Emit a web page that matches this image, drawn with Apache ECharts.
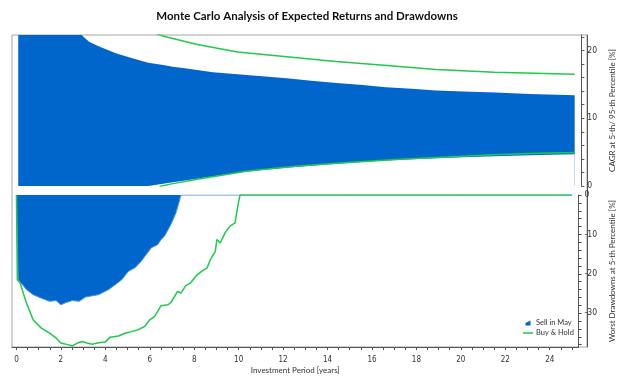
<!DOCTYPE html>
<html><head><meta charset="utf-8">
<script src="https://cdn.jsdelivr.net/npm/echarts@6/dist/echarts.min.js"></script>
<style>html,body{margin:0;padding:0;background:#fff}#c{width:624px;height:386px}</style>
</head><body><div id="c"></div>
<script>
// ---- Top panel: CAGR at 5th / 95th percentile [%] ----
const bandYears = [0.08, 0.5, 1, 1.5, 2, 2.5, 2.95, 3.25, 3.7, 4.45, 5.15, 5.9, 6.5, 7.0, 7.7, 8.8, 9.9, 11, 12.1, 13.2, 14.35, 15.5, 16.55, 17.7, 18.8, 20, 21.45, 23, 25];
const sellUpper = [60, 45, 36, 30, 26.5, 24, 22.2, 21.3, 20.6, 19.6, 18.9, 18.2, 17.9, 17.6, 17.3, 16.8, 16.5, 16.2, 15.9, 15.55, 15.2, 14.9, 14.6, 14.35, 14.1, 13.95, 13.8, 13.6, 13.4];
const sellLower = [0, 0, 0, 0, 0, 0, 0, 0, 0, 0, 0, 0, 0.3, 0.55, 0.9, 1.45, 1.95, 2.35, 2.7, 3.0, 3.3, 3.55, 3.75, 3.95, 4.1, 4.25, 4.4, 4.55, 4.7];
const bhUpperYears = [6.0, 6.5, 8.1, 9.9, 12.1, 14.3, 16.6, 18.8, 21.4, 25];
const bhUpper = [22.9, 22.2, 20.9, 19.8, 19.1, 18.4, 17.8, 17.2, 16.8, 16.5];
const bhLowerYears = [6.4, 6.5, 7.0, 8.1, 9.2, 10.35, 12.6, 15, 17, 19, 21.4, 23, 25];
const bhLower = [-0.1, 0, 0.35, 1.0, 1.6, 2.2, 2.95, 3.5, 3.9, 4.25, 4.6, 4.8, 4.95];

// ---- Bottom panel: worst drawdowns at 5th percentile [%] ----
const sellDDYears = [0, 0.08, 0.45, 0.75, 1.12, 1.49, 1.78, 2.0, 2.23, 2.52, 2.82, 3.11, 3.7, 4.15, 4.44, 4.74, 5.03, 5.33, 5.62, 5.84, 6.07, 6.36, 6.51, 6.66, 6.95, 7.18, 7.33, 7.4, 10, 15, 20, 25];
const sellDD = [0, -21.5, -24.0, -25.3, -26.2, -27.0, -26.8, -27.9, -27.3, -26.8, -27.0, -25.9, -25.3, -24.0, -22.8, -21.5, -19.4, -18.5, -16.8, -15.1, -13.4, -12.6, -11.3, -10.5, -7.5, -4.5, -1.6, 0, 0, 0, 0, 0];
const bhDDYears = [0, 0.04, 0.16, 0.45, 0.75, 1.12, 1.49, 1.78, 2.0, 2.3, 2.52, 2.74, 2.96, 3.18, 3.41, 3.7, 4.0, 4.22, 4.59, 4.89, 5.18, 5.48, 5.77, 6.0, 6.22, 6.51, 6.81, 6.95, 7.25, 7.4, 7.62, 7.84, 8.14, 8.43, 8.58, 8.73, 8.95, 9.02, 9.17, 9.39, 9.61, 9.84, 9.91, 9.99, 10.06, 15, 20, 25];
const bhDD = [0, -21.5, -22.3, -27.4, -31.7, -33.8, -35.1, -36.3, -37.6, -38.0, -38.3, -37.6, -37.2, -37.6, -37.9, -37.5, -37.3, -36.1, -35.8, -35.1, -34.7, -34.2, -33.4, -31.7, -30.8, -28.1, -27.9, -27.3, -24.5, -24.9, -23.0, -22.3, -20.2, -19.0, -18.5, -16.4, -14.3, -11.3, -12.2, -9.6, -7.9, -7.1, -4.5, -2.0, 0, 0, 0, 0];

// ---- Tick labels ----
const xTickLabels = [0, 2, 4, 6, 8, 10, 12, 14, 16, 18, 20, 22, 24];
const cagrTickLabels = [0, 10, 20];
const ddTickLabels = [0, -10, -20, -30];

const xMinor = []; for (let v = 0; v <= 25; v += 0.5) xMinor.push(v);
const cagrMinor = []; for (let v = 0; v <= 22; v += 2) cagrMinor.push(v);
const ddMinor = []; for (let v = 0; v >= -38; v -= 2) ddMinor.push(v);

const zip = (xs, ys) => xs.map((x, i) => [x, ys[i]]);

const BLUE = '#0066cc', BLUE_EDGE = '#4a90e2', GREEN = '#22c84c';
const FONT = 'Lato';
const labelStyle = { fontSize: 8.5, color: '#333', fontFamily: 'DejaVu Sans Condensed, DejaVu Sans' };
const nameStyle = { fontSize: 8, color: '#333', fontFamily: FONT };
const noZero = { onZero: false, show: true, lineStyle: { color: '#555', width: 1 } };

const chart = echarts.init(document.getElementById('c'), null, { renderer: 'canvas' });
chart.setOption({
  animation: false,
  backgroundColor: '#fff',
  title: {
    text: 'Monte Carlo Analysis of Expected Returns and Drawdowns',
    left: 302, top: 5, textAlign: 'center',
    textStyle: { fontSize: 11.5, fontWeight: 'bold', color: '#111', fontFamily: FONT }
  },
  legend: {
    orient: 'vertical', left: 518, top: 314, itemWidth: 10, itemHeight: 5, itemGap: 2,
    textStyle: { fontSize: 7.5, color: '#333', fontFamily: FONT, padding: [0, 0, 0, -2] },
    data: [
      { name: 'Sell in May', icon: 'path://M0,5 L10,0 L10,10 L0,10 Z', itemStyle: { color: BLUE } },
      { name: 'Buy & Hold', icon: 'path://M0,0 H20 V3 H0 Z', itemStyle: { color: GREEN } }
    ]
  },
  grid: [
    { left: 12, right: 37, top: 35, height: 151 },
    { left: 12, right: 37, top: 195, height: 152 },
    { left: 12, right: 37, top: 35, bottom: 39, show: true, borderColor: '#a6a6a6', borderWidth: 1 }
  ],
  xAxis: [
    { gridIndex: 0, type: 'value', min: -0.2, max: 25.3, show: false, axisLine: { onZero: false } },
    { gridIndex: 1, type: 'value', min: -0.2, max: 25.3,
      name: 'Investment Period [years]', nameLocation: 'middle', nameGap: 19,
      nameTextStyle: nameStyle,
      axisLine: noZero,
      axisTick: { show: true, customValues: xMinor, length: 3, lineStyle: { color: '#555' } },
      axisLabel: { customValues: xTickLabels, margin: 9, ...labelStyle, fontSize: 8 },
      splitLine: { show: false } },
    { gridIndex: 2, type: 'value', min: 0, max: 1, show: false, axisLine: { onZero: false } }
  ],
  yAxis: [
    { gridIndex: 0, type: 'value', position: 'right', min: 0, max: 22.3,
      name: 'CAGR at 5-th/ 95-th Percentile [%]', nameLocation: 'middle', nameRotate: 90, nameGap: 20,
      nameTextStyle: nameStyle,
      axisLine: noZero,
      axisTick: { show: true, customValues: cagrMinor, length: 3, lineStyle: { color: '#555' } },
      axisLabel: { customValues: cagrTickLabels, margin: 6, ...labelStyle },
      splitLine: { show: false } },
    { gridIndex: 1, type: 'value', position: 'right', min: -38.6, max: 0,
      name: 'Worst Drawdowns at 5-th Percentile [%]', nameLocation: 'middle', nameRotate: 90, nameGap: 20,
      nameTextStyle: nameStyle,
      axisLine: noZero,
      axisTick: { show: true, customValues: ddMinor, length: 3, lineStyle: { color: '#555' } },
      axisLabel: { customValues: ddTickLabels, margin: 6, ...labelStyle },
      splitLine: { show: false } },
    { gridIndex: 2, type: 'value', position: 'right', min: 0, max: 1,
      axisLine: noZero,
      axisTick: { show: false }, axisLabel: { show: false }, splitLine: { show: false } }
  ],
  series: [
    // Sell in May 95th percentile: filled blue down to axis min
    { name: 'Sell in May', type: 'line', xAxisIndex: 0, yAxisIndex: 0,
      data: zip(bandYears, sellUpper), showSymbol: false, itemStyle: { color: BLUE },
      lineStyle: { width: 0, color: BLUE }, areaStyle: { color: BLUE, opacity: 1 }, z: 2 },
    // Sell in May 5th percentile: white mask below it, leaving the band
    { name: 'band lower', type: 'line', xAxisIndex: 0, yAxisIndex: 0,
      data: zip(bandYears, sellLower), showSymbol: false,
      lineStyle: { width: 0, color: '#fff' }, areaStyle: { color: '#fff', opacity: 1 }, z: 2 },
    { name: 'Buy & Hold', type: 'line', xAxisIndex: 0, yAxisIndex: 0,
      data: zip(bhUpperYears, bhUpper), showSymbol: false, itemStyle: { color: GREEN },
      lineStyle: { width: 1.5, color: GREEN }, z: 3 },
    { name: 'Buy & Hold', type: 'line', xAxisIndex: 0, yAxisIndex: 0,
      data: zip(bhLowerYears, bhLower), showSymbol: false, itemStyle: { color: GREEN },
      lineStyle: { width: 1.5, color: GREEN }, z: 3 },
    { name: 'Sell in May', type: 'line', xAxisIndex: 1, yAxisIndex: 1,
      data: zip(sellDDYears, sellDD), showSymbol: false, itemStyle: { color: BLUE },
      lineStyle: { width: 1, color: BLUE_EDGE }, areaStyle: { color: BLUE, opacity: 1 }, z: 2 },
    { name: 'Buy & Hold', type: 'line', xAxisIndex: 1, yAxisIndex: 1,
      data: zip(bhDDYears, bhDD), showSymbol: false, itemStyle: { color: GREEN },
      lineStyle: { width: 1.5, color: GREEN }, z: 3 }
  ]
});
</script>
</body></html>
